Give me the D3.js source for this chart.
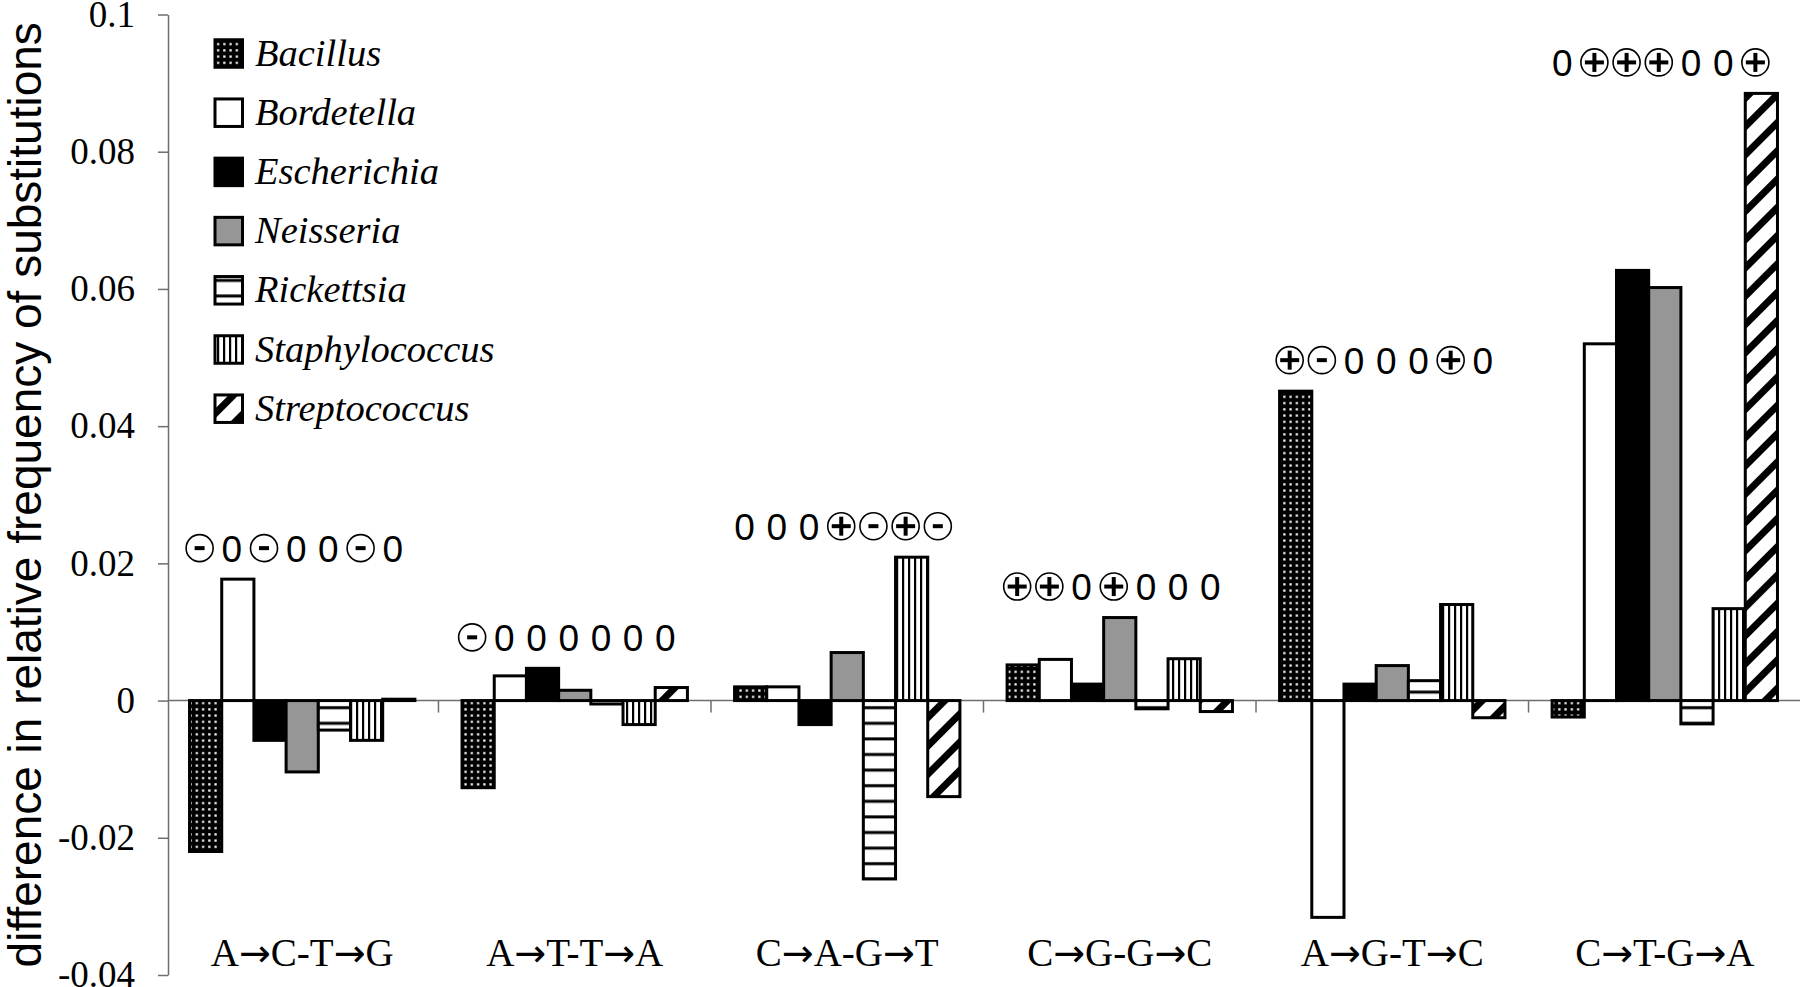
<!DOCTYPE html>
<html>
<head>
<meta charset="utf-8">
<script src="https://cdn.jsdelivr.net/npm/d3@7"></script>
<style>
  html, body { margin: 0; padding: 0; background: #fff; }
  svg { display: block; }
</style>
</head>
<body>
<svg id="chart" width="1800" height="987"></svg>
<script>
{
  const categories = ['A→C-T→G', 'A→T-T→A', 'C→A-G→T', 'C→G-G→C', 'A→G-T→C', 'C→T-G→A'];
  const genera = ['Bacillus', 'Bordetella', 'Escherichia', 'Neisseria', 'Rickettsia', 'Staphylococcus', 'Streptococcus'];

  const bacillus = [-0.0220, -0.0127, 0.0020, 0.0052, 0.0451, -0.0024];
  const bordetella = [0.0177, 0.0036, 0.0020, 0.0060, -0.0316, 0.0520];
  const escherichia = [-0.0058, 0.0047, -0.0035, 0.0024, 0.0024, 0.0627];
  const neisseria = [-0.0104, 0.0015, 0.0070, 0.0121, 0.0051, 0.0602];
  const rickettsia = [-0.0043, -0.0005, -0.0260, -0.0012, 0.0029, -0.0034];
  const staphylococcus = [-0.0058, -0.0035, 0.0209, 0.0061, 0.0140, 0.0134];
  const streptococcus = [0.0002, 0.0019, -0.0140, -0.0016, -0.0025, 0.0885];

  // significance marks above each group, one per genus
  const signs = ['-0-00-0', '-000000', '000+-+-', '++0+000', '+-000+0', '0+++00+'];

  const yTicks = [-0.04, -0.02, 0, 0.02, 0.04, 0.06, 0.08, 0.1];

  const series = [bacillus, bordetella, escherichia, neisseria, rickettsia, staphylococcus, streptococcus];
  const fills = ['url(#pat-dots)', '#fff', '#000', '#969696', 'url(#pat-hlines)', 'url(#pat-vlines)', 'url(#pat-diag)'];

  const SERIF = '"Liberation Serif", "Times New Roman", serif';
  const SANS = '"Liberation Sans", Arial, sans-serif';
  const AXIS_GREY = '#6e6e6e';

  const svg = d3.select('#chart');

  const y = d3.scaleLinear()
    .domain([-0.04, 0.1])
    .range([975, 14.5]);

  const x0 = d3.scaleBand()
    .domain(categories)
    .range([168, 1799])
    .paddingInner(0.173)
    .paddingOuter(0.079);

  const x1 = d3.scaleBand()
    .domain(genera)
    .range([0, x0.bandwidth()]);

  init();

  function init() {
    addPatterns();
    drawAxes();
    drawBars();
    drawSigns();
    drawLegend();
  }

  function addPatterns() {
    const defs = svg.append('defs');

    const dots = defs.append('pattern')
      .attr('id', 'pat-dots')
      .attr('patternUnits', 'userSpaceOnUse')
      .attr('width', 6.25)
      .attr('height', 6.25);
    dots.append('rect').attr('width', 6.25).attr('height', 6.25).attr('fill', '#000');
    dots.append('rect').attr('x', 2).attr('y', 2).attr('width', 2.2).attr('height', 2.2).attr('fill', '#fff');

    const hlines = defs.append('pattern')
      .attr('id', 'pat-hlines')
      .attr('patternUnits', 'userSpaceOnUse')
      .attr('width', 10)
      .attr('height', 15.6);
    hlines.append('rect').attr('width', 10).attr('height', 15.6).attr('fill', '#fff');
    hlines.append('rect').attr('y', 4.2).attr('width', 10).attr('height', 3).attr('fill', '#000');

    const vlines = defs.append('pattern')
      .attr('id', 'pat-vlines')
      .attr('patternUnits', 'userSpaceOnUse')
      .attr('width', 6)
      .attr('height', 10);
    vlines.append('rect').attr('width', 6).attr('height', 10).attr('fill', '#fff');
    vlines.append('rect').attr('x', 2).attr('width', 2.2).attr('height', 10).attr('fill', '#000');

    const diag = defs.append('pattern')
      .attr('id', 'pat-diag')
      .attr('patternUnits', 'userSpaceOnUse')
      .attr('width', 20)
      .attr('height', 20)
      .attr('patternTransform', 'rotate(45)');
    diag.append('rect').attr('width', 20).attr('height', 20).attr('fill', '#fff');
    diag.append('rect').attr('width', 7).attr('height', 20).attr('fill', '#000');
  }

  function drawAxes() {
    const yAxis = d3.axisLeft(y)
      .tickValues(yTicks)
      .tickSize(10)
      .tickSizeOuter(0)
      .tickPadding(23)
      .tickFormat((d) => d === 0 ? '0' : String(+d.toFixed(2)));

    const gy = svg.append('g')
      .attr('transform', `translate(${x0.range()[0]},0)`)
      .call(yAxis);

    gy.select('.domain').attr('stroke', AXIS_GREY).attr('stroke-width', 1.5);
    gy.selectAll('.tick line').attr('stroke', AXIS_GREY).attr('stroke-width', 1.5);
    gy.selectAll('.tick text')
      .attr('fill', '#000')
      .style('font-family', SERIF)
      .style('font-size', '37px');

    // zero line with category boundary ticks
    const gx = svg.append('g');
    gx.append('line')
      .attr('x1', x0.range()[0])
      .attr('x2', 1800)
      .attr('y1', y(0))
      .attr('y2', y(0))
      .attr('stroke', AXIS_GREY)
      .attr('stroke-width', 1.5);

    const half = x0.step() * x0.paddingInner() / 2;
    gx.selectAll('.cat-tick')
      .data(categories)
      .join('line')
      .attr('class', 'cat-tick')
      .attr('x1', (d) => x0(d) + x0.bandwidth() + half)
      .attr('x2', (d) => x0(d) + x0.bandwidth() + half)
      .attr('y1', y(0))
      .attr('y2', y(0) + 12)
      .attr('stroke', AXIS_GREY)
      .attr('stroke-width', 1.5);

    // arrows drawn in a font that has a full-width arrow glyph
    const labels = gx.selectAll('.cat-label')
      .data(categories)
      .join('text')
      .attr('class', 'cat-label')
      .attr('x', (d) => x0(d) + x0.bandwidth() / 2)
      .attr('y', 966)
      .attr('text-anchor', 'middle')
      .style('font-family', SERIF)
      .style('font-size', '39px');

    labels.each(function(d) {
      const t = d3.select(this);
      d.split(/(→)/).forEach((part) => {
        if (part === '') return;
        const span = t.append('tspan').text(part);
        if (part === '→') {
          span.style('font-family', '"DejaVu Sans", sans-serif')
            .style('font-size', '38px');
        }
      });
    });

    svg.append('text')
      .attr('transform', `translate(41,${(y.range()[0] + y.range()[1]) / 2}) rotate(-90)`)
      .attr('text-anchor', 'middle')
      .style('font-family', SANS)
      .style('font-size', '46px')
      .text('difference in relative frequency of substitutions');
  }

  function drawBars() {
    const rows = [];
    categories.forEach((cat, ci) => {
      genera.forEach((genus, gi) => {
        rows.push({cat, genus, value: series[gi][ci], fill: fills[gi]});
      });
    });

    svg.append('g')
      .selectAll('rect')
      .data(rows)
      .join('rect')
      .attr('x', (d) => x0(d.cat) + x1(d.genus))
      .attr('width', x1.bandwidth())
      .attr('y', (d) => y(Math.max(0, d.value)))
      .attr('height', (d) => Math.abs(y(d.value) - y(0)))
      .attr('fill', (d) => d.fill)
      .attr('stroke', '#000')
      .attr('stroke-width', 3);
  }

  function drawSigns() {
    categories.forEach((cat, ci) => {
      const top = d3.max(series, (s) => s[ci]);
      const cy = y(top) - 31;
      const g = svg.append('g');

      signs[ci].split('').forEach((mark, gi) => {
        const cx = x0(cat) + x1(genera[gi]) + x1.bandwidth() / 2 - 6;

        if (mark === '0') {
          g.append('text')
            .attr('x', cx)
            .attr('y', cy + 13.5)
            .attr('text-anchor', 'middle')
            .style('font-family', SANS)
            .style('font-size', '37px')
            .text('0');
          return;
        }

        g.append('circle')
          .attr('cx', cx)
          .attr('cy', cy)
          .attr('r', 13.5)
          .attr('fill', '#fff')
          .attr('stroke', '#000')
          .attr('stroke-width', 1.6);

        const arm = mark === '+' ? 9.5 : 5;
        g.append('line')
          .attr('x1', cx - arm).attr('x2', cx + arm)
          .attr('y1', cy).attr('y2', cy)
          .attr('stroke', '#000')
          .attr('stroke-width', 4);

        if (mark === '+') {
          g.append('line')
            .attr('x1', cx).attr('x2', cx)
            .attr('y1', cy - arm).attr('y2', cy + arm)
            .attr('stroke', '#000')
            .attr('stroke-width', 4);
        }
      });
    });
  }

  function drawLegend() {
    const size = 27.5;
    const legend = svg.append('g')
      .selectAll('g')
      .data(genera)
      .join('g')
      .attr('transform', (d, i) => `translate(215,${53.5 + i * 59.2})`);

    legend.append('rect')
      .attr('x', 0)
      .attr('y', -size / 2)
      .attr('width', size)
      .attr('height', size)
      .attr('fill', (d, i) => fills[i])
      .attr('stroke', '#000')
      .attr('stroke-width', 3);

    legend.append('text')
      .attr('x', 40)
      .attr('y', 12)
      .style('font-family', SERIF)
      .style('font-style', 'italic')
      .style('font-size', '38.5px')
      .text((d) => d);
  }
}
</script>
</body>
</html>
